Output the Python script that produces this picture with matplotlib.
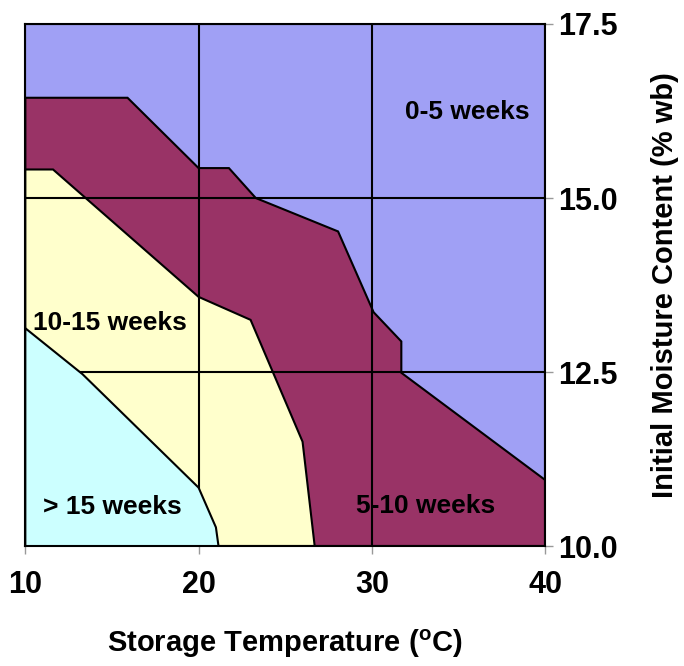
import matplotlib
matplotlib.use("Agg")
import matplotlib.pyplot as plt

plt.rcParams['font.family'] = ['Liberation Sans', 'DejaVu Sans']
plt.rcParams['font.weight'] = 'bold'
plt.rcParams['mathtext.fontset'] = 'custom'
plt.rcParams['mathtext.rm'] = 'Liberation Sans:bold'

# region boundaries (storage temperature, moisture content)
t_5_10 = [10, 15.9, 20.0, 21.75, 23.3, 28.05, 30.1, 31.7, 31.7, 40]
m_5_10 = [16.44, 16.44, 15.43, 15.43, 15.0, 14.52, 13.36, 12.94, 12.49, 10.95]

t_10_15 = [10, 11.6, 20.0, 23.0, 26.0, 26.7]
m_10_15 = [15.41, 15.41, 13.58, 13.25, 11.5, 10.0]

t_15 = [10, 13.3, 20.0, 21.0, 21.15]
m_15 = [13.13, 12.47, 10.84, 10.27, 10.0]

labels = ["0-5 weeks", "5-10 weeks", "10-15 weeks", "> 15 weeks"]
label_t = [35.5, 33.1, 14.9, 15.0]
label_m = [16.23, 10.57, 13.2, 10.56]

fig = plt.figure(figsize=(6.84, 6.66), dpi=100)
ax = fig.add_axes([0.037, 0.18, 0.76, 0.784])

ax.set_facecolor('#A0A0F5')
ax.fill(t_5_10 + [40, 10], m_5_10 + [10, 10], color='#993366', ec='black', lw=1.5, zorder=1)
ax.fill(t_10_15 + [10], m_10_15 + [10], color='#FFFFCC', ec='black', lw=1.5, zorder=2)
ax.fill(t_15 + [10], m_15 + [10], color='#CCFFFF', ec='black', lw=1.5, zorder=3)

for lab, t, m in zip(labels, label_t, label_m):
    ax.text(t, m, lab, ha='center', va='center', fontsize=19, fontweight='bold', zorder=5)

ax.set_xlim(10, 40)
ax.set_ylim(10, 17.5)
ax.set_xticks([10, 20, 30, 40])
ax.set_yticks([10, 12.5, 15, 17.5])
ax.set_yticklabels(['10.0', '12.5', '15.0', '17.5'])
ax.yaxis.tick_right()
ax.yaxis.set_label_position('right')
ax.tick_params(axis='both', labelsize=22, color='#999999', length=6, width=1)
ax.tick_params(axis='x', pad=11)
ax.tick_params(axis='y', pad=3)
for lbl in ax.get_xticklabels() + ax.get_yticklabels():
    lbl.set_fontweight('bold')

ax.grid(True, color='black', lw=1.5, zorder=4)
ax.set_axisbelow(False)
for s in ax.spines.values():
    s.set_linewidth(1.5)
    s.set_zorder(6)

ax.set_xlabel(r'Storage Temperature ($^\mathrm{o}$C)', fontsize=21, fontweight='bold', labelpad=20)
ax.set_ylabel('Initial Moisture Content (% wb)', fontsize=21, fontweight='bold', labelpad=24)

fig.savefig('out.png', dpi=100)
